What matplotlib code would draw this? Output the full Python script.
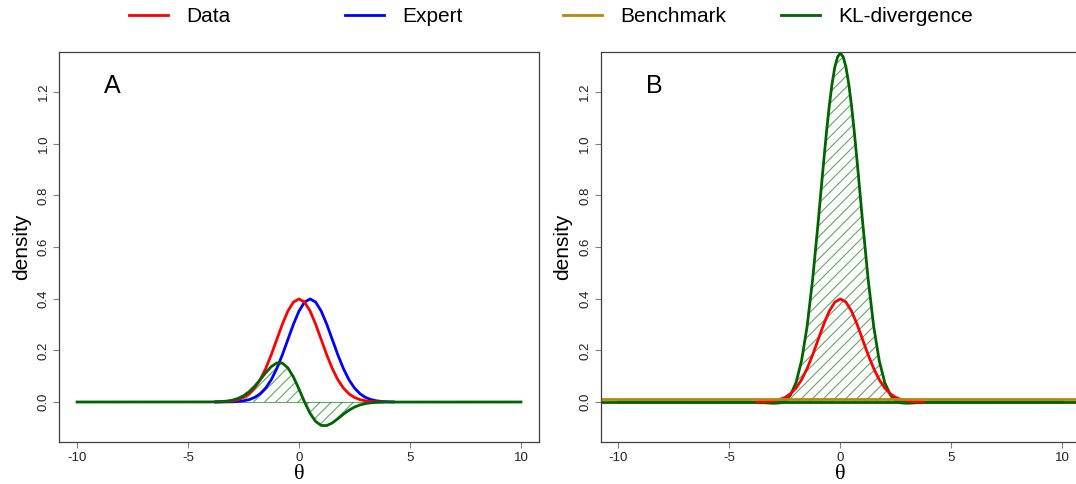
import matplotlib
matplotlib.use("Agg")
import matplotlib.pyplot as plt

plt.rcParams["font.family"] = ["Liberation Sans", "DejaVu Sans"]
plt.rcParams["hatch.linewidth"] = 0.8
plt.rcParams["axes.unicode_minus"] = False

# densities (theta grid, step 0.25)
theta_data = [-3.75, -3.5, -3.25, -3.0, -2.75, -2.5, -2.25, -2.0, -1.75, -1.5, -1.25, -1.0,
              -0.75, -0.5, -0.25, 0.0, 0.25, 0.5, 0.75, 1.0, 1.25, 1.5, 1.75, 2.0,
              2.25, 2.5, 2.75, 3.0, 3.25, 3.5, 3.75]
data_density = [0.00035, 0.00087, 0.00203, 0.00443, 0.00909, 0.01753, 0.03174, 0.05399,
                0.08628, 0.12952, 0.18265, 0.24197, 0.30114, 0.35207, 0.38667, 0.39894,
                0.38667, 0.35207, 0.30114, 0.24197, 0.18265, 0.12952, 0.08628, 0.05399,
                0.03174, 0.01753, 0.00909, 0.00443, 0.00203, 0.00087, 0.00035]

theta_expert = [-3.75, -3.5, -3.25, -3.0, -2.75, -2.5, -2.25, -2.0, -1.75, -1.5, -1.25, -1.0,
                -0.75, -0.5, -0.25, 0.0, 0.25, 0.5, 0.75, 1.0, 1.25, 1.5, 1.75, 2.0,
                2.25, 2.5, 2.75, 3.0, 3.25, 3.5, 3.75, 4.0, 4.25]
expert_density = [0.00005, 0.00013, 0.00035, 0.00087, 0.00203, 0.00443, 0.00909, 0.01753,
                  0.03174, 0.05399, 0.08628, 0.12952, 0.18265, 0.24197, 0.30114, 0.35207,
                  0.38667, 0.39894, 0.38667, 0.35207, 0.30114, 0.24197, 0.18265, 0.12952,
                  0.08628, 0.05399, 0.03174, 0.01753, 0.00909, 0.00443, 0.00203, 0.00087,
                  0.00035]

# KL integrand, panel A (data vs expert)
theta_kl_a = [-10.0, -4.0, -3.75, -3.5, -3.25, -3.0, -2.75, -2.5, -2.25, -2.0, -1.75, -1.5,
              -1.25, -1.0, -0.75, -0.5, -0.25, 0.0, 0.25, 0.5, 0.75, 1.0, 1.25, 1.5,
              1.75, 2.0, 2.25, 2.5, 2.75, 3.0, 3.25, 3.5, 3.75, 4.0, 10.0]
kl_a = [0.0, 0.0003, 0.0007, 0.0016, 0.0036, 0.0072, 0.0136, 0.0241, 0.0397, 0.0607,
        0.0863, 0.1133, 0.1370, 0.1512, 0.1506, 0.1320, 0.0967, 0.0499, 0.0, -0.0440,
        -0.0753, -0.0907, -0.0913, -0.0810, -0.0647, -0.0472, -0.0317, -0.0197, -0.0114,
        -0.0061, -0.0030, -0.0014, -0.0006, -0.0002, 0.0]

# KL integrand, panel B (data vs flat benchmark)
theta_kl_b = [-10.0, -4.0, -3.75, -3.5, -3.25, -3.0, -2.75, -2.5, -2.25, -2.0, -1.75, -1.5,
              -1.25, -1.0, -0.875, -0.75, -0.625, -0.5, -0.375, -0.25, -0.125, 0.0,
              0.125, 0.25, 0.375, 0.5, 0.625, 0.75, 0.875, 1.0, 1.25, 1.5, 1.75, 2.0,
              2.25, 2.5, 2.75, 3.0, 3.25, 3.5, 3.75, 4.0, 10.0]
kl_b = [0.0, -0.0006, -0.0013, -0.0024, -0.0039, -0.0049, -0.0036, 0.0045, 0.0271, 0.0747,
        0.1599, 0.2926, 0.4754, 0.6978, 0.8168, 0.9343, 1.0464, 1.1474, 1.2322, 1.2964,
        1.3364, 1.3500, 1.3364, 1.2964, 1.2322, 1.1474, 1.0464, 0.9343, 0.8168, 0.6978,
        0.4754, 0.2926, 0.1599, 0.0747, 0.0271, 0.0045, -0.0036, -0.0049, -0.0039,
        -0.0024, -0.0013, -0.0006, 0.0]

benchmark_density = 0.0135

x_ticks = [-10, -5, 0, 5, 10]
y_ticks = [0.0, 0.2, 0.4, 0.6, 0.8, 1.0, 1.2]
y_ticklabels = ["0.0", "0.2", "0.4", "0.6", "0.8", "1.0", "1.2"]

red = "#ff0000"
blue = "#0000ff"
green = "#006400"
gold = "#b8860b"
hatch_col = (0.0, 0.42, 0.0, 0.6)

W, H = 1076, 484
fig = plt.figure(figsize=(W / 100, H / 100), dpi=100)
ax_a = fig.add_axes([59.3 / W, 1 - 442.3 / H, 479.4 / W, 390.6 / H])
ax_b = fig.add_axes([600.7 / W, 1 - 442.3 / H, 479.4 / W, 390.6 / H])


def style_axes(ax, letter):
    ax.set_xlim(-10.8, 10.8)
    ax.set_ylim(-0.156, 1.356)
    ax.set_xticks(x_ticks)
    ax.set_yticks(y_ticks)
    ax.set_yticklabels(y_ticklabels, rotation=90, va="center")
    ax.tick_params(axis="both", length=4.3, width=0.8, color="#808080",
                   labelsize=9.5, labelcolor="#222222")
    ax.tick_params(axis="x", pad=2.5)
    ax.tick_params(axis="y", pad=2.5)
    for s in ax.spines.values():
        s.set_color("#404040")
        s.set_linewidth(0.9)
    ax.set_ylabel("density", fontsize=15, labelpad=5)
    ax.set_xlabel("\u03b8", fontsize=16, family=["Liberation Serif", "DejaVu Serif"],
                  labelpad=1)
    ax.text(-8.4, 1.225, letter, fontsize=18, ha="center", va="center")


# panel A
ax_a.fill_between(theta_kl_a, kl_a, 0, facecolor="none", edgecolor=hatch_col,
                  hatch="///", linewidth=0)
ax_a.plot([theta_kl_a[0], theta_kl_a[-1]], [0, 0], color=hatch_col, lw=0.8)
h_exp, = ax_a.plot(theta_expert, expert_density, color=blue, lw=2)
h_data, = ax_a.plot(theta_data, data_density, color=red, lw=2)
h_kl, = ax_a.plot(theta_kl_a, kl_a, color=green, lw=2)
style_axes(ax_a, "A")

# panel B
ax_b.fill_between(theta_kl_b, kl_b, 0, facecolor="none", edgecolor=hatch_col,
                  hatch="///", linewidth=0)
ax_b.axhline(0, color=green, lw=2)
ax_b.plot(theta_kl_b, kl_b, color=green, lw=2)
ax_b.plot(theta_data, data_density, color=red, lw=2)
h_bench = ax_b.axhline(benchmark_density, color=gold, lw=2)
style_axes(ax_b, "B")

# legend across the top
for h, lab, x0 in [(h_data, "Data", 129), (h_exp, "Expert", 345),
                   (h_bench, "Benchmark", 563), (h_kl, "KL-divergence", 781)]:
    fig.legend(handles=[h], labels=[lab], loc="center left",
               bbox_to_anchor=(x0 / W, 1 - 16.5 / H), frameon=False, fontsize=15,
               handlelength=1.87, handletextpad=0.9, borderpad=0, borderaxespad=0)

fig.savefig("out.png", dpi=100)
